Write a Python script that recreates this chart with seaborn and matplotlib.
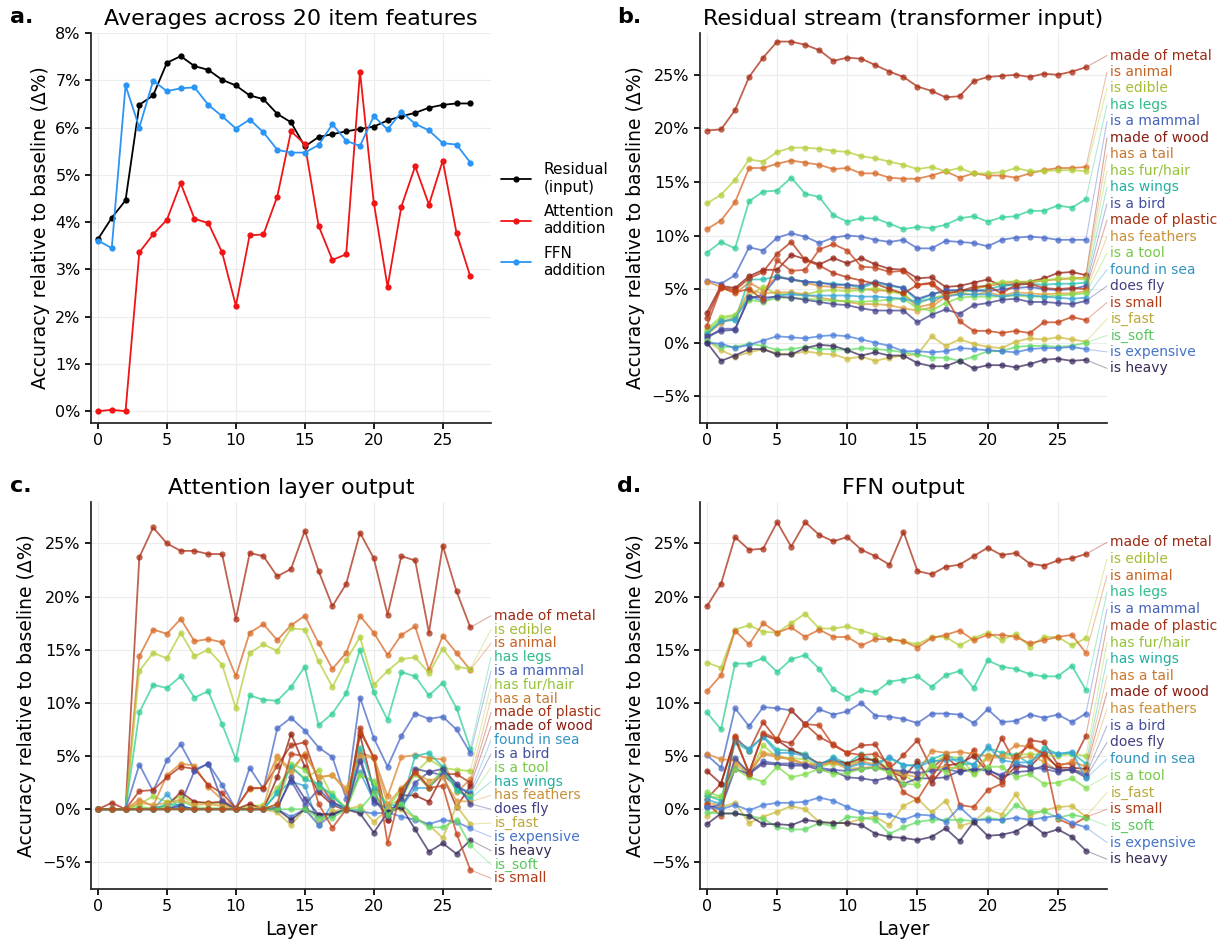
import numpy as np
import pandas as pd
import matplotlib
matplotlib.use("Agg")
import matplotlib.pyplot as plt
import seaborn as sns
from matplotlib.ticker import PercentFormatter, MultipleLocator

sns.set_theme(style="ticks")
plt.rcParams['font.family'] = ['DejaVu Sans']
plt.rcParams.update({'text.color': 'black', 'axes.labelcolor': 'black',
                     'xtick.color': 'black', 'ytick.color': 'black',
                     'axes.edgecolor': '#222222'})

LAYERS = list(range(28))

# panel a: averages over the 20 features (in %)
avg_residual = [3.64, 4.09, 4.46, 6.48, 6.68, 7.37, 7.51, 7.30, 7.22, 7.01, 6.89, 6.68, 6.60, 6.29,
                6.11, 5.60, 5.80, 5.86, 5.92, 5.97, 6.02, 6.15, 6.24, 6.31, 6.42, 6.48, 6.51, 6.51]
avg_attention = [0.00, 0.03, 0.00, 3.36, 3.74, 4.05, 4.82, 4.07, 3.98, 3.36, 2.23, 3.72, 3.74, 4.54,
                 5.92, 5.65, 3.92, 3.20, 3.32, 7.18, 4.41, 2.63, 4.33, 5.18, 4.37, 5.30, 3.77, 2.85]
avg_ffn = [3.61, 3.45, 6.89, 6.00, 6.99, 6.77, 6.83, 6.85, 6.48, 6.24, 5.98, 6.17, 5.90, 5.53,
           5.47, 5.47, 5.63, 6.07, 5.72, 5.61, 6.24, 5.96, 6.33, 6.08, 5.94, 5.67, 5.64, 5.26]
AVG_NAMES = ['Residual\n(input)', 'Attention\naddition', 'FFN\naddition']

# panel b: residual stream
resid_stream = {
    'made of metal': [19.8, 19.9, 21.7, 24.8, 26.6, 28.1, 28.1, 27.8, 27.3, 26.3, 26.6, 26.5, 25.9, 25.3,
                      24.8, 23.9, 23.5, 22.9, 23.0, 24.4, 24.8, 24.9, 25.0, 24.8, 25.1, 25.0, 25.3, 25.7],
    'is animal': [10.6, 11.4, 13.1, 16.3, 16.3, 16.7, 17.0, 16.8, 16.6, 16.2, 16.3, 15.8, 15.8, 15.4,
                  15.3, 15.3, 15.6, 16.0, 15.4, 15.8, 15.6, 15.6, 15.4, 15.8, 16.1, 16.3, 16.3, 16.4],
    'is edible': [13.0, 13.8, 15.2, 17.1, 16.9, 17.8, 18.2, 18.2, 18.1, 17.9, 17.8, 17.4, 17.2, 16.9,
                  16.6, 16.2, 16.4, 16.0, 16.3, 15.8, 15.8, 15.9, 16.3, 16.0, 16.0, 16.1, 16.1, 16.0],
    'has legs': [8.4, 9.4, 8.8, 13.2, 14.1, 14.2, 15.4, 13.9, 13.6, 11.9, 11.3, 11.6, 11.6, 11.1,
                 10.6, 10.8, 10.7, 11.0, 11.6, 11.8, 11.3, 11.7, 11.8, 12.3, 12.3, 12.8, 12.6, 13.4],
    'is a mammal': [5.8, 5.5, 6.3, 8.9, 8.6, 9.8, 10.2, 9.9, 9.3, 9.8, 10.0, 9.9, 9.6, 9.4,
                    9.6, 8.8, 8.8, 9.5, 9.4, 9.3, 9.0, 9.6, 9.8, 9.9, 9.8, 9.6, 9.6, 9.6],
    'made of wood': [2.8, 5.3, 5.1, 6.2, 6.8, 6.8, 8.2, 7.8, 7.3, 7.9, 7.4, 7.9, 7.3, 6.9,
                     6.8, 6.0, 6.1, 5.2, 5.3, 5.6, 5.9, 5.3, 5.5, 5.7, 6.0, 6.5, 6.6, 6.3],
    'has a tail': [5.7, 5.2, 4.6, 5.6, 4.9, 6.2, 5.9, 5.6, 5.3, 5.2, 5.1, 5.0, 4.9, 4.8,
                   4.6, 3.3, 3.6, 4.6, 4.8, 5.0, 5.3, 5.5, 5.7, 5.6, 5.8, 5.9, 6.0, 6.1],
    'has fur/hair': [1.3, 2.4, 2.6, 4.4, 5.2, 4.5, 4.6, 4.5, 4.8, 4.9, 4.8, 4.9, 5.1, 4.8,
                     4.5, 3.6, 4.2, 4.4, 4.6, 5.0, 5.4, 5.7, 5.7, 5.7, 5.8, 6.0, 6.0, 5.9],
    'has wings': [0.9, 2.0, 2.1, 5.9, 5.9, 6.2, 5.9, 5.7, 5.6, 5.5, 5.4, 5.1, 5.6, 5.3,
                  5.1, 3.9, 4.5, 4.8, 4.9, 4.8, 5.0, 5.3, 5.4, 5.5, 5.4, 5.5, 5.5, 5.6],
    'is a bird': [0.4, 1.3, 1.3, 4.1, 4.5, 6.1, 5.9, 5.7, 5.6, 5.4, 5.4, 5.3, 5.7, 5.4,
                  5.1, 4.1, 4.5, 4.9, 4.9, 4.9, 4.8, 5.0, 5.1, 5.2, 5.0, 4.9, 5.0, 5.3],
    'made of plastic': [2.3, 5.2, 4.9, 6.0, 6.6, 8.3, 9.4, 7.7, 7.2, 6.5, 6.1, 5.8, 5.5, 5.0,
                        4.6, 5.4, 5.6, 4.6, 4.8, 5.2, 5.3, 4.6, 5.4, 5.5, 5.1, 5.0, 5.1, 5.0],
    'has feathers': [0.8, 1.8, 2.4, 4.9, 4.6, 4.7, 4.7, 4.5, 4.2, 4.0, 3.8, 3.6, 3.6, 3.5,
                     3.2, 3.0, 3.3, 4.3, 4.6, 4.5, 4.7, 4.4, 4.7, 4.6, 4.5, 4.6, 4.6, 4.8],
    'is a tool': [1.1, 2.2, 2.5, 4.0, 3.8, 4.2, 4.2, 4.1, 4.0, 3.9, 3.9, 3.8, 3.9, 4.0,
                  4.1, 3.2, 3.0, 3.7, 4.2, 4.3, 4.3, 4.3, 4.4, 4.3, 4.3, 4.4, 4.5, 4.6],
    'found in sea': [0.8, 2.0, 2.2, 4.3, 3.9, 4.4, 4.5, 4.4, 4.4, 4.4, 4.4, 4.3, 4.3, 4.2,
                     4.1, 3.8, 4.1, 4.3, 4.5, 4.5, 4.5, 4.3, 4.5, 4.4, 4.3, 4.2, 4.1, 4.2],
    'does fly': [0.6, 1.1, 1.2, 4.3, 4.2, 4.3, 4.2, 4.0, 3.8, 3.6, 3.5, 3.2, 3.0, 3.0,
                 3.0, 1.9, 2.6, 3.1, 2.7, 3.5, 3.7, 4.0, 4.1, 3.8, 3.8, 3.7, 3.6, 3.9],
    'is small': [1.6, 5.1, 4.7, 5.0, 4.0, 7.7, 6.7, 6.8, 8.7, 9.2, 8.6, 7.1, 7.0, 6.6,
                 6.7, 5.4, 5.5, 4.3, 2.0, 1.1, 1.1, 0.9, 1.1, 0.9, 1.9, 1.9, 2.4, 2.1],
    'is_fast': [0.2, -0.7, -1.3, -0.9, -0.6, -1.0, -1.1, -0.8, -1.0, -1.1, -1.5, -1.3, -1.7, -1.4,
                -1.2, -1.1, 0.6, -0.3, 0.3, -0.1, -0.4, -0.5, 0.1, 0.4, 0.3, 0.5, 0.3, 0.1],
    'is_soft': [0.2, -0.4, -0.4, -0.1, -0.3, -0.7, -0.6, -0.4, -0.6, -0.6, -0.7, -0.5, -0.6, -0.7,
                -0.9, -1.1, -1.4, -1.4, -1.7, -1.3, -0.8, -0.8, -0.4, -0.3, -0.3, -0.4, -0.3, 0.0],
    'is expensive': [0.0, -0.1, -0.5, -0.2, 0.2, 0.6, 0.5, 0.4, 0.6, 0.7, 0.6, 0.3, 0.0, -0.3,
                     -0.8, -0.8, -0.9, -0.8, -0.5, -0.6, -0.7, -0.8, -0.9, -0.6, -0.5, -0.5, -0.4, -0.6],
    'is heavy': [0.0, -1.7, -1.2, -0.6, -0.6, -1.1, -1.1, -0.5, -0.2, -0.3, -0.7, -1.2, -0.9, -1.2,
                 -1.2, -1.9, -2.2, -2.2, -1.7, -2.4, -2.1, -2.1, -2.3, -2.0, -1.6, -1.5, -1.7, -1.6],
}

# panel c: attention layer output
attn_output = {
    'made of metal': [0.0, 0.6, 0.0, 23.7, 26.5, 25.0, 24.3, 24.3, 24.0, 24.0, 17.9, 24.1, 23.8, 21.9,
                      22.6, 26.2, 22.4, 19.1, 21.2, 26.0, 23.6, 18.3, 23.8, 23.4, 16.6, 24.8, 20.5, 17.1],
    'is animal': [0.0, 0.0, 0.0, 14.4, 16.9, 16.5, 17.9, 15.8, 16.0, 15.7, 12.5, 16.6, 17.4, 15.9,
                  17.3, 18.2, 15.6, 13.2, 14.7, 18.2, 16.6, 14.5, 16.4, 17.2, 13.1, 16.3, 14.7, 13.1],
    'is edible': [0.0, 0.0, 0.0, 13.0, 14.7, 14.2, 16.6, 14.4, 15.0, 13.6, 9.5, 14.7, 15.5, 14.9,
                  17.0, 16.9, 13.9, 11.5, 14.0, 16.2, 11.7, 13.0, 14.1, 14.3, 12.8, 15.1, 13.4, 13.2],
    'has legs': [0.0, 0.0, 0.0, 9.1, 11.7, 11.4, 12.5, 10.5, 11.1, 8.0, 4.7, 10.7, 10.3, 10.2,
                 11.5, 13.4, 7.9, 9.0, 10.9, 15.0, 11.0, 8.4, 12.9, 12.5, 10.7, 11.9, 9.5, 5.7],
    'is a mammal': [0.0, 0.0, 0.0, 4.2, 1.7, 4.6, 6.1, 3.7, 4.3, 2.3, 0.0, 3.9, 1.9, 7.6,
                    8.6, 7.4, 5.8, 4.9, 1.0, 10.5, 6.7, 4.0, 6.9, 9.0, 8.5, 8.7, 7.5, 5.3],
    'has fur/hair': [0.0, 0.0, 0.0, 0.5, 1.2, 0.7, 1.2, 0.6, 0.6, 0.5, 0.0, 0.3, 0.4, 2.0,
                     4.0, 2.9, 3.7, 1.2, 0.2, 3.3, 2.5, 0.3, 1.0, 3.4, 4.7, 3.9, 3.7, 3.6],
    'has a tail': [0.0, 0.0, 0.0, 0.9, 0.3, 3.2, 4.3, 4.1, 2.1, 0.9, 0.1, 1.9, 2.0, 5.0,
                   3.7, 5.2, 3.0, 3.2, 1.7, 5.3, 4.9, 1.2, 4.9, 5.1, 4.8, 4.7, 1.6, 2.8],
    'made of plastic': [0.0, 0.0, 0.0, 1.7, 1.8, 3.0, 4.0, 3.8, 2.3, 1.5, 0.1, 2.0, 2.0, 4.1,
                        6.0, 6.3, 2.5, 0.7, 0.0, 7.6, 4.8, -1.0, 1.5, 3.6, 2.1, 3.3, 3.3, 2.5],
    'made of wood': [0.0, 0.0, 0.0, 0.0, 0.1, 0.3, 1.6, 0.7, 0.6, 0.7, 0.0, 0.5, 0.0, 3.0,
                     7.1, 4.0, 1.6, 0.4, -0.1, 7.0, 1.8, -1.0, 1.3, 1.3, 0.7, 3.2, 0.2, 2.2],
    'found in sea': [0.0, 0.0, 0.0, 0.0, 0.0, 1.4, 0.0, 0.0, 0.0, 0.0, 0.0, 0.0, 0.0, 1.5,
                     2.6, 2.2, -1.5, 0.5, 0.0, 3.5, 0.8, 0.0, 0.2, 2.0, 2.0, 3.6, 2.1, 1.6],
    'is a bird': [0.0, 0.0, 0.0, 0.0, 0.0, 0.0, 0.5, 3.6, 4.3, 0.8, 0.0, 0.0, 0.0, 0.2,
                  2.7, 0.4, 1.9, 0.6, 0.1, 5.0, 0.6, 0.1, 0.2, 2.5, 3.5, 3.2, 2.2, 1.4],
    'is a tool': [0.0, 0.0, 0.0, 0.3, 0.0, 0.3, 0.8, 0.2, 0.1, 0.1, 0.0, 0.0, 0.1, 0.4,
                  4.3, 3.7, 2.1, 1.5, 0.0, 3.2, 2.7, 0.2, 1.8, 3.3, 2.0, 3.9, 1.7, 1.2],
    'has wings': [0.0, 0.0, 0.0, 0.0, 0.0, 0.5, 0.3, 0.0, 0.0, 0.0, 0.0, 0.0, 0.0, 1.6,
                  4.0, 2.8, 2.4, 1.2, 0.0, 5.8, 2.0, 0.3, 0.5, 5.0, 5.3, 4.0, 1.8, 1.0],
    'has feathers': [0.0, 0.0, 0.0, 0.6, 0.4, 0.6, 0.9, 0.4, 0.5, 0.3, 0.0, 0.1, 0.2, 4.8,
                     3.5, 5.2, 3.0, 3.2, 2.0, 5.0, 4.8, 0.5, 2.0, 3.4, 2.7, 3.0, 0.8, 0.7],
    'does fly': [0.0, 0.0, 0.0, 0.0, 0.0, 0.0, 0.3, 0.0, 0.0, 0.0, 0.0, 0.0, 0.0, 0.0,
                 3.0, 1.0, -0.5, -0.4, 0.0, 4.5, 1.0, -0.7, 1.0, 3.8, 3.5, 3.8, 2.4, 0.5],
    'is_fast': [0.0, 0.0, 0.0, 0.0, 0.0, 0.0, 0.0, 0.0, 0.0, 0.0, 0.0, 0.0, 0.0, -0.3,
                -1.5, 0.0, -1.3, -0.2, 0.0, 0.3, -1.2, 0.0, 0.0, -0.8, -1.5, -2.7, 0.3, -1.4],
    'is expensive': [0.0, 0.0, 0.0, 0.0, 0.0, 0.0, 0.0, 0.0, 0.0, 0.0, 0.0, 0.0, 0.0, 0.0,
                     -0.7, 0.0, -1.5, -0.5, 0.0, -0.2, -0.4, -0.3, -0.7, -1.0, -1.4, -1.0, -1.2, -1.8],
    'is heavy': [0.0, 0.0, 0.0, 0.0, 0.0, 0.0, 0.0, 0.0, 0.0, 0.0, 0.0, 0.0, 0.0, 0.0,
                 -1.0, 0.0, -0.5, -0.5, 0.0, -0.4, -2.2, -0.3, 0.2, -1.9, -4.0, -3.2, -4.2, -2.9],
    'is_soft': [0.0, 0.0, 0.0, 0.0, 0.0, 0.0, 0.0, 0.0, 0.0, 0.0, 0.0, 0.0, 0.0, 0.0,
                0.0, 0.0, -0.8, -0.8, 0.0, 0.0, 1.5, -0.5, 0.5, -0.8, -1.7, -1.7, -1.0, -3.4],
    'is small': [0.0, 0.0, 0.0, 0.0, 0.0, 0.0, 0.0, 0.0, 0.0, 0.0, 0.0, 0.0, 0.0, 0.5,
                 5.2, 5.0, 0.5, -1.75, 0.0, 7.3, 4.9, -3.2, 1.8, 3.5, 2.0, 2.2, -2.3, -5.7],
}

# panel d: FFN output
ffn_output = {
    'made of metal': [19.1, 21.2, 25.6, 24.4, 24.5, 27.0, 24.7, 27.0, 25.8, 25.2, 25.6, 24.4, 23.8, 23.0,
                      26.1, 22.4, 22.1, 22.8, 23.0, 23.8, 24.6, 23.9, 24.1, 23.1, 22.9, 23.4, 23.6, 24.0],
    'is edible': [13.8, 13.3, 16.9, 17.3, 16.7, 16.6, 17.5, 18.4, 17.0, 17.0, 17.2, 16.8, 16.4, 16.0,
                  15.8, 15.5, 16.2, 16.2, 15.4, 16.1, 16.6, 15.9, 16.5, 15.3, 16.2, 16.2, 15.4, 16.1],
    'is animal': [11.1, 12.6, 16.8, 15.5, 17.5, 16.6, 17.1, 16.2, 16.9, 16.2, 16.2, 15.4, 16.0, 16.0,
                  15.8, 15.2, 16.1, 16.4, 16.8, 15.9, 16.4, 16.4, 16.2, 15.6, 15.9, 16.2, 16.4, 14.7],
    'has legs': [9.1, 7.5, 13.7, 13.7, 14.2, 12.9, 14.1, 14.5, 13.2, 11.3, 10.5, 11.2, 11.0, 12.0,
                 12.2, 12.5, 11.5, 12.6, 13.0, 11.4, 14.0, 13.4, 13.2, 12.7, 12.5, 12.5, 13.5, 11.2],
    'is a mammal': [5.1, 3.9, 9.5, 7.8, 9.6, 9.5, 9.3, 8.0, 9.4, 8.9, 9.2, 10.0, 8.8, 8.7,
                    8.5, 8.1, 9.0, 9.0, 8.9, 8.1, 9.4, 8.2, 8.3, 8.9, 8.6, 8.9, 8.2, 9.0],
    'made of plastic': [1.0, 2.4, 6.8, 5.5, 8.2, 6.5, 6.2, 8.0, 6.8, 6.1, 5.3, 6.0, 6.1, 3.8,
                        5.1, 6.5, 3.8, 5.0, 3.8, 5.6, 3.7, 6.7, 4.3, 6.5, 6.3, 4.2, 4.3, 6.9],
    'has fur/hair': [1.2, 1.1, 4.7, 3.2, 6.0, 4.9, 4.8, 4.7, 4.0, 4.3, 4.2, 4.6, 4.7, 3.8,
                     3.3, 2.3, 4.3, 5.0, 4.8, 3.4, 5.1, 5.0, 5.1, 5.2, 5.1, 5.0, 5.2, 5.0],
    'has wings': [1.3, 0.8, 6.3, 5.5, 6.9, 5.6, 5.5, 5.2, 4.1, 4.9, 4.3, 5.2, 4.4, 4.8,
                  4.1, 4.2, 4.7, 5.2, 4.3, 4.2, 5.8, 5.3, 5.1, 4.3, 5.8, 5.2, 5.3, 4.3],
    'has a tail': [5.2, 4.7, 4.6, 3.5, 5.2, 4.9, 4.7, 4.3, 4.1, 4.5, 4.0, 4.5, 4.2, 3.6,
                   3.5, 3.4, 5.5, 5.3, 5.4, 5.2, 5.0, 5.0, 6.0, 5.9, 5.0, 4.0, 4.5, 4.0],
    'made of wood': [3.6, 2.4, 6.6, 3.5, 7.0, 6.5, 5.6, 5.0, 4.3, 4.6, 4.3, 4.8, 4.6, 3.6,
                     3.0, 4.5, 2.5, 4.1, 4.3, 5.0, 3.5, 2.7, 4.0, 4.0, 5.3, 3.9, 3.9, 3.8],
    'has feathers': [0.6, 0.4, 4.3, 3.2, 5.3, 5.1, 4.6, 4.2, 4.2, 4.4, 3.8, 3.9, 4.0, 3.5,
                     3.3, 3.0, 3.9, 4.0, 3.8, 3.5, 4.8, 4.9, 4.7, 5.0, 4.5, 3.6, 3.7, 3.5],
    'is a bird': [0.2, 0.4, 4.8, 3.4, 4.5, 4.3, 4.3, 4.2, 3.9, 3.7, 3.6, 3.8, 3.9, 3.7,
                  3.6, 3.4, 3.6, 3.8, 3.5, 3.8, 3.6, 3.2, 4.3, 3.9, 3.8, 3.5, 3.8, 3.2],
    'does fly': [0.3, 0.1, 3.8, 3.3, 4.3, 4.2, 4.1, 4.1, 3.7, 3.6, 3.0, 2.9, 2.7, 3.0,
                 2.4, 2.9, 2.9, 3.0, 3.6, 3.7, 3.8, 3.0, 3.5, 3.6, 4.1, 3.7, 3.7, 3.0],
    'found in sea': [0.9, 0.5, 6.5, 5.7, 6.8, 5.3, 5.3, 5.0, 4.2, 4.8, 3.9, 4.3, 4.1, 4.9,
                     4.2, 4.0, 4.5, 4.6, 4.7, 4.2, 5.9, 4.6, 4.4, 4.4, 5.4, 5.2, 5.4, 2.9],
    'is a tool': [1.6, 1.2, 3.8, 3.0, 2.6, 4.0, 3.0, 3.3, 3.8, 3.3, 3.4, 3.8, 3.9, 3.5,
                  2.4, 2.3, 4.2, 3.5, 4.2, 3.3, 4.0, 4.0, 3.0, 3.3, 2.4, 2.5, 2.9, 2.0],
    'is_fast': [-0.6, 0.2, 0.6, -1.3, -0.7, -0.25, 0.3, 0.0, -1.2, -1.3, -1.3, -0.9, -0.7, -1.5,
                0.3, 1.0, -0.3, 0.8, -1.6, -1.2, 0.0, -0.5, 1.4, -0.6, -0.1, 0.2, 0.3, -0.7],
    'is small': [0.5, -0.6, 6.9, 3.3, 7.2, 6.6, 9.3, 8.0, 7.9, 6.0, 5.3, 5.1, 5.2, 4.3,
                 1.6, 0.9, 3.0, 4.9, 0.4, 0.2, 1.8, 2.4, 5.0, 6.0, 5.2, -0.9, -1.5, -0.75],
    'is_soft': [-0.3, -0.4, -0.4, -0.6, -0.9, -1.7, -1.9, -1.9, -1.3, -1.6, -0.7, -0.8, -1.0, -2.3,
                -1.7, -1.2, -1.0, -1.0, -1.0, -1.1, -0.8, -1.0, 0.4, -0.3, -0.2, -0.8, -0.5, -0.8],
    'is expensive': [0.2, 0.0, 0.4, -0.1, 0.4, 0.6, 0.6, 0.7, 1.1, 0.8, 0.2, -0.3, -0.4, -0.5,
                     -1.0, -0.5, -0.6, -1.2, 0.2, -1.0, -1.0, -1.0, -0.8, -1.0, -0.8, -0.6, -1.3, -1.7],
    'is heavy': [-1.4, -0.4, -0.4, -0.6, -1.4, -1.4, -1.5, -1.0, -1.2, -1.3, -1.3, -1.5, -2.3, -2.6,
                 -2.7, -2.9, -2.6, -1.8, -3.0, -1.2, -2.5, -2.4, -2.1, -1.3, -2.3, -1.9, -2.6, -3.9],
}

# position of each feature on the turbo colormap
COLOR_POS = {
    'is heavy': 0.02, 'does fly': 0.06, 'is a bird': 0.09, 'is a mammal': 0.13,
    'is expensive': 0.17, 'found in sea': 0.24, 'has wings': 0.31, 'has legs': 0.36,
    'is_soft': 0.43, 'is a tool': 0.47, 'has fur/hair': 0.53, 'is edible': 0.56,
    'is_fast': 0.62, 'has feathers': 0.68, 'has a tail': 0.73, 'is animal': 0.77,
    'is small': 0.85, 'made of plastic': 0.89, 'made of metal': 0.91, 'made of wood': 0.95,
}
turbo = sns.color_palette("turbo", as_cmap=True)


def muted(c, k, grey):
    # pull a turbo colour toward grey to get the softer tones of the original
    return tuple(k * v + (1 - k) * grey for v in c[:3])


palette = {f: muted(turbo(p), 0.8, 0.35) for f, p in COLOR_POS.items()}
text_colors = {f: muted(turbo(p), 0.72, 0.25) for f, p in COLOR_POS.items()}

XLIM = (-0.5, 28.5)
FEAT_YLIM = (-7.5, 28.9)


def to_long(values):
    rows = []
    for feat, vals in values.items():
        for layer, v in zip(LAYERS, vals):
            rows.append((feat, layer, v))
    return pd.DataFrame(rows, columns=['feature', 'layer', 'value'])


def style_axes(ax):
    ax.set_xlim(*XLIM)
    ax.xaxis.set_major_locator(MultipleLocator(5))
    ax.yaxis.set_major_formatter(PercentFormatter(decimals=0))
    ax.grid(True, color='#ececec', lw=0.8)
    ax.set_axisbelow(True)
    ax.tick_params(labelsize=11.5, length=4)
    sns.despine(ax=ax)
    ax.set_ylabel('Accuracy relative to baseline (Δ%)', fontsize=13.5)
    ax.set_xlabel('')


def feature_panel(ax, values, title, xlabel=None):
    df = to_long(values)
    sns.lineplot(data=df, x='layer', y='value', hue='feature', palette=palette,
                 marker='o', markersize=4.5, markeredgewidth=0, linewidth=1.3,
                 alpha=0.75, legend=False, errorbar=None, ax=ax)
    style_axes(ax)
    ax.set_ylim(*FEAT_YLIM)
    ax.yaxis.set_major_locator(MultipleLocator(5))
    ax.set_title(title, fontsize=16)
    if xlabel:
        ax.set_xlabel(xlabel, fontsize=13.5)

    # labels on the right, sorted by final value, joined to the last point
    last = {f: v[-1] for f, v in values.items()}
    order = sorted(last, key=last.get, reverse=True)
    ys = np.linspace(last[order[0]] + 1.1, last[order[-1]] - 0.8, len(order))
    x_end = XLIM[1]
    for f, y in zip(order, ys):
        ax.plot([LAYERS[-1], x_end], [last[f], y], color=palette[f], lw=0.8,
                alpha=0.4, clip_on=False)
        ax.text(x_end + 0.25, y, f, color=text_colors[f], fontsize=10,
                va='center', ha='left', clip_on=False)


fig = plt.figure(figsize=(12.19, 9.43), dpi=100)
ax_a = fig.add_axes([0.0747, 0.5514, 0.3281, 0.4136])
ax_b = fig.add_axes([0.5742, 0.5514, 0.3339, 0.4136])
ax_c = fig.add_axes([0.0747, 0.0573, 0.3281, 0.4104])
ax_d = fig.add_axes([0.5742, 0.0573, 0.3339, 0.4104])

# panel a
avg_df = pd.DataFrame({
    'layer': LAYERS * 3,
    'value': avg_residual + avg_attention + avg_ffn,
    'series': [AVG_NAMES[0]] * 28 + [AVG_NAMES[1]] * 28 + [AVG_NAMES[2]] * 28,
})
sns.lineplot(data=avg_df, x='layer', y='value', hue='series',
             palette={AVG_NAMES[0]: 'black', AVG_NAMES[1]: '#f01414', AVG_NAMES[2]: '#2b95f5'},
             marker='o', markersize=4.5, markeredgewidth=0, linewidth=1.3,
             errorbar=None, ax=ax_a)
style_axes(ax_a)
ax_a.set_ylim(-0.25, 8.0)
ax_a.yaxis.set_major_locator(MultipleLocator(1))
ax_a.set_title('Averages across 20 item features', fontsize=16)
sns.move_legend(ax_a, 'center left', bbox_to_anchor=(0.99, 0.52), frameon=False,
                title=None, fontsize=11, handlelength=2.0, labelspacing=0.6)

feature_panel(ax_b, resid_stream, 'Residual stream (transformer input)')
feature_panel(ax_c, attn_output, 'Attention layer output', 'Layer')
feature_panel(ax_d, ffn_output, 'FFN output', 'Layer')

for lab, x, y in [('a.', 0.008, 0.982), ('b.', 0.506, 0.982),
                  ('c.', 0.008, 0.485), ('d.', 0.506, 0.485)]:
    fig.text(x, y, lab, fontsize=16, fontweight='bold', va='center', ha='left')

fig.savefig('out.png', dpi=100)
